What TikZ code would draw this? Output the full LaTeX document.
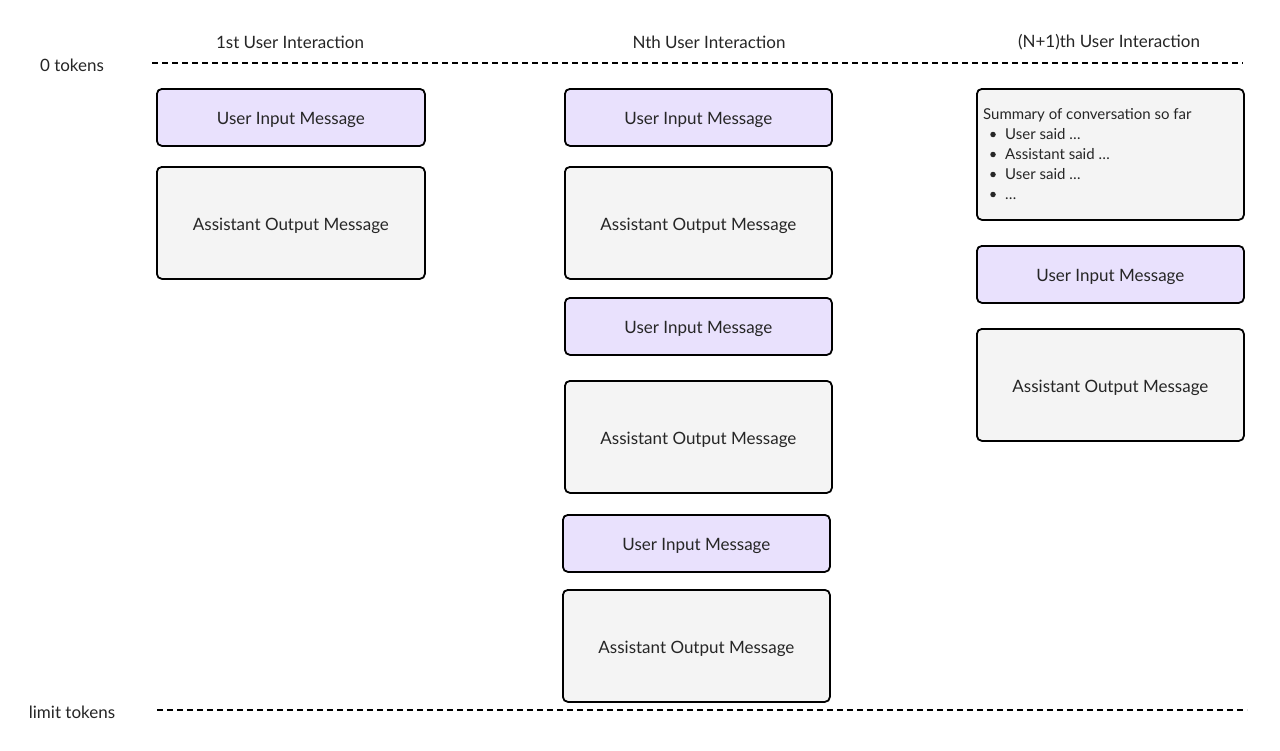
\documentclass[tikz,border=0pt]{standalone}
\usepackage{fontspec}
\setmainfont{Lato}
\begin{document}
\begin{tikzpicture}[x=1pt,y=-1pt,
  box/.style={draw=black, line width=1.8pt, rounded corners=5pt, anchor=north west, inner sep=0pt, font=\fontsize{17}{20}\selectfont, text=black!85, text height=14.5pt, text depth=0pt},
  uim/.style={box, fill=userfill},
  aom/.style={box, fill=greyfill},
  lbl/.style={font=\fontsize{17}{20}\selectfont, text=black!85},
  sumtxt/.style={anchor=base west, inner sep=0pt, font=\fontsize{15}{20}\selectfont, text=black!85},
  sep/.style={dashed, line width=1.8pt, dash pattern=on 6pt off 4pt}]
\definecolor{userfill}{HTML}{E9E1FD}
\definecolor{greyfill}{HTML}{F4F4F4}
\useasboundingbox (0,0) rectangle (1280,750);
\fill[white] (0,0) rectangle (1280,750);
% labels
\node[lbl] (zero) at (72,65) {0 tokens};
\node[lbl] (limit) at (72,712) {limit tokens};
\node[lbl] (h1) at (290,42) {1st User Interaction};
\node[lbl] (h2) at (709,42) {Nth User Interaction};
\node[lbl] (h3) at (1109,42) {(N+1)th User Interaction};
% separators
\coordinate (t1) at (152,63); \coordinate (t2) at (1243,63);
\coordinate (b1) at (157,710); \coordinate (b2) at (1247,710);
\draw[sep] (t1) -- (t2);
\draw[sep] (b1) -- (b2);
% column 1
\node[uim, minimum width=268pt, minimum height=57pt] (c1u1) at (156,88) {User Input Message};
\node[aom, minimum width=268pt, minimum height=112pt] (c1a1) at (156,166) {Assistant Output Message};
% column 2
\node[uim, minimum width=267pt, minimum height=57pt] (c2u1) at (564,88) {User Input Message};
\node[aom, minimum width=267pt, minimum height=112pt] (c2a1) at (564,166) {Assistant Output Message};
\node[uim, minimum width=267pt, minimum height=57pt] (c2u2) at (564,297) {User Input Message};
\node[aom, minimum width=267pt, minimum height=112pt] (c2a2) at (564,380) {Assistant Output Message};
\node[uim, minimum width=267pt, minimum height=57pt] (c2u3) at (562,514) {User Input Message};
\node[aom, minimum width=267pt, minimum height=112pt] (c2a3) at (562,589) {Assistant Output Message};
% column 3
\node[aom, minimum width=267pt, minimum height=131pt] (c3s) at (976,88) {};
\node[sumtxt] (st) at (983,119.5) {Summary of conversation so far};
\foreach \yy/\tt [count=\i] in {139.5/User said \dots, 159.5/Assistant said \dots, 179.5/User said \dots, 199.5/\dots}{
  \node[circle, fill=black!85, inner sep=0pt, minimum size=5.5pt] (bul\i) at (993,\yy-5) {};
  \node[sumtxt] (bt\i) at (1005,\yy) {\tt};
}
\node[uim, minimum width=267pt, minimum height=57pt] (c3u1) at (976,245) {User Input Message};
\node[aom, minimum width=267pt, minimum height=112pt] (c3a1) at (976,328) {Assistant Output Message};
\end{tikzpicture}
\end{document}
